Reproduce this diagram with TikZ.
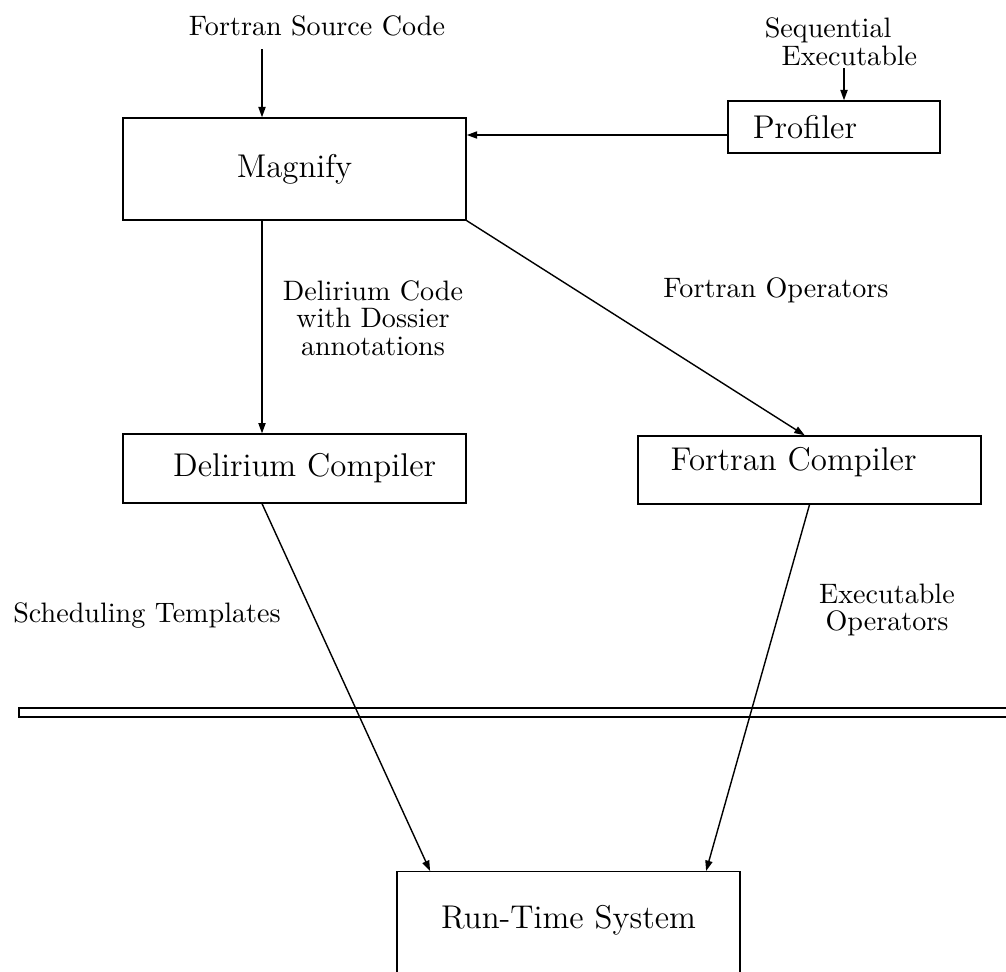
\documentclass[tikz,border=0pt]{standalone}
\usepackage{tikz}
\usetikzlibrary{positioning,arrows.meta}

\tikzset{
    box/.style={draw, rectangle, inner sep=0pt, font=\fontsize{11.7}{14}\selectfont},
    lbl/.style={align=center, inner sep=0pt, font=\fontsize{10}{9.8}\selectfont},
    arr/.style={-{Triangle[length=1.3mm,width=0.9mm]}},
}

\begin{document}
\begin{tikzpicture}[x=0.125mm, y=-0.125mm, line width=0.5pt]
    \useasboundingbox (0,0) rectangle (1006,971);
    \clip (0,0) rectangle (1006,971);

    % inputs
    \node[lbl] (src) at (317,26) {Fortran Source Code};
    \node[lbl, align=left] (seq) at (841,42) {Sequential\\\hspace*{6pt}Executable};
    \coordinate (srcend) at (262,49);
    \coordinate (seqend) at (844,68);

    % tools
    \node[box, minimum width=42.9mm, minimum height=12.75mm] (mag) at (294.5,169) {Magnify};
    \node[box, text width=20.3mm, inner xsep=3.1mm, minimum height=6.5mm, align=left] (prof) at (834,127) {Profiler};
    \node[box, text width=35.4mm, inner xsep=3.75mm, minimum height=8.6mm, align=right] (dcomp) at (294.5,468.5) {Delirium Compiler};
    \node[box, text width=34.7mm, inner xsep=4.1mm, align=left,
          text height=4.25mm, text depth=4.25mm] (fcomp) at (809.5,470) {Fortran Compiler};
    \node[box, anchor=north, text width=42.9mm, align=center,
          text height=7.1mm, text depth=10mm] (rts) at (568.5,871) {Run-Time System};

    % labels
    \node[lbl] (dcode) at (373,318) {Delirium Code\\with Dossier\\annotations};
    \node[lbl] (fops) at (776,290) {Fortran Operators};
    \node[lbl] (sched) at (147,615) {Scheduling Templates};
    \node[lbl] (exops) at (887,610) {Executable\\Operators};

    % separator
    \draw (1012,708) -- (19,708) -- (19,717) -- (1012,717);

    \path[arr]
        (srcend) edge (srcend |- mag.north)
        (seqend) edge (seqend |- prof.north)
        ([yshift=-1mm]prof.west) edge ([yshift=-1mm]prof.west -| mag.east)
        (mag.south -| srcend) edge (dcomp.north -| srcend)
        (mag.south east) edge ([xshift=-0.6mm]fcomp.north)
        (dcomp.south -| srcend) edge ([xshift=-17.3mm]rts.north)
        (fcomp.south) edge ([xshift=17.2mm]rts.north);
\end{tikzpicture}
\end{document}
